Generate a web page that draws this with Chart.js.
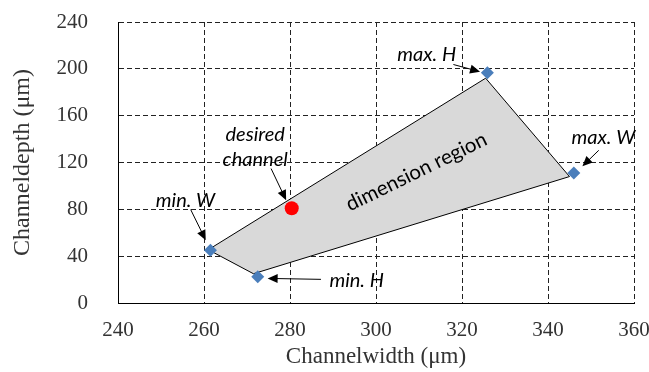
<!DOCTYPE html>
<html>
<head>
<meta charset="utf-8">
<script src="https://cdn.jsdelivr.net/npm/chart.js@4.4.0/dist/chart.umd.min.js"></script>
<style>
html, body { margin: 0; padding: 0; background: #fff; }
canvas { display: block; }
</style>
</head>
<body>
<canvas id="c" width="649" height="372"></canvas>
<script>
// corner points of the dimension region (diamonds)
const cornerNames = ['min. W', 'min. H', 'max. W', 'max. H'];
const cornerWidth = [261.5, 272.5, 346, 325.9];
const cornerDepth = [45, 22.5, 111, 196.7];

// outline of the shaded region (closed back to the first point)
const regionWidth = [261, 271.5, 345, 325.5, 261];
const regionDepth = [45.5, 25, 108, 192, 45.5];

// desired channel
const desiredWidth = [280.4];
const desiredDepth = [80.9];

const xTicks = [240, 260, 280, 300, 320, 340, 360];
const yTicks = [0, 40, 80, 120, 160, 200, 240];

// callouts, in data units: text anchor, arrow tail, arrow head
const callouts = [
    { text: ['max. H'], at: [311.8, 211.8], from: [318, 203.7], to: [324.2, 197.5] },
    { text: ['max. W'], at: [352.9, 141.2], from: [351.8, 130.4], to: [348, 116.8] },
    { text: ['desired', 'channel'], at: [271.9, 132.8], from: [275.6, 114.8], to: [279.1, 87.8] },
    { text: ['min. W'], at: [255.7, 87.2], from: [256.9, 79.8], to: [260.4, 53.7] },
    { text: ['min. H'], at: [295.5, 19.6], from: [287.2, 20.2], to: [274.8, 21] }
];
const regionLabel = { text: 'dimension region', at: [309.4, 112], angle: -26 };

function toPoints(xs, ys) {
    return xs.map((v, i) => ({ x: v, y: ys[i] }));
}

function drawArrow(ctx, x1, y1, x2, y2) {
    const a = Math.atan2(y2 - y1, x2 - x1);
    const len = 10, half = 4.5;
    ctx.beginPath();
    ctx.moveTo(x1, y1);
    ctx.lineTo(x2 - len * 0.8 * Math.cos(a), y2 - len * 0.8 * Math.sin(a));
    ctx.stroke();
    ctx.beginPath();
    ctx.moveTo(x2, y2);
    ctx.lineTo(x2 - len * Math.cos(a) + half * Math.sin(a), y2 - len * Math.sin(a) - half * Math.cos(a));
    ctx.lineTo(x2 - len * Math.cos(a) - half * Math.sin(a), y2 - len * Math.sin(a) + half * Math.cos(a));
    ctx.closePath();
    ctx.fill();
}

// callout texts and arrows
const calloutPlugin = {
    id: 'callouts',
    afterDraw(chart) {
        const { ctx, scales: { x, y } } = chart;
        ctx.save();
        ctx.setLineDash([]);
        ctx.strokeStyle = '#000';
        ctx.fillStyle = '#000';
        ctx.lineWidth = 1;

        ctx.font = 'italic 20px Lato';
        ctx.textAlign = 'center';
        ctx.textBaseline = 'middle';
        callouts.forEach(c => {
            const px = x.getPixelForValue(c.at[0]);
            const py = y.getPixelForValue(c.at[1]);
            const lh = 25;
            c.text.forEach((t, i) => {
                ctx.fillText(t, px, py + (i - (c.text.length - 1) / 2) * lh);
            });
            drawArrow(ctx,
                x.getPixelForValue(c.from[0]), y.getPixelForValue(c.from[1]),
                x.getPixelForValue(c.to[0]), y.getPixelForValue(c.to[1]));
        });

        ctx.font = '20.5px Lato';
        ctx.translate(x.getPixelForValue(regionLabel.at[0]), y.getPixelForValue(regionLabel.at[1]));
        ctx.rotate(regionLabel.angle * Math.PI / 180);
        ctx.fillText(regionLabel.text, 0, 0);
        ctx.restore();
    }
};

const tickFont = { family: 'Liberation Serif', size: 21 };

new Chart(document.getElementById('c').getContext('2d'), {
    type: 'scatter',
    data: {
        datasets: [
            {
                label: 'corners',
                data: toPoints(cornerWidth, cornerDepth),
                pointStyle: 'rectRot',
                pointRadius: 6.5,
                backgroundColor: '#4a7ebb',
                borderColor: '#4a7ebb',
                borderWidth: 0,
                order: 1
            },
            {
                label: 'desired channel',
                data: toPoints(desiredWidth, desiredDepth),
                pointStyle: 'circle',
                pointRadius: 7,
                backgroundColor: '#ff0000',
                borderColor: '#ff0000',
                borderWidth: 0,
                order: 2
            },
            {
                label: 'dimension region',
                data: toPoints(regionWidth, regionDepth),
                showLine: true,
                fill: 'shape',
                backgroundColor: '#d9d9d9',
                borderColor: '#000',
                borderWidth: 1,
                pointRadius: 0,
                tension: 0,
                order: 3
            }
        ]
    },
    options: {
        responsive: false,
        animation: false,
        events: [],
        layout: { padding: { top: 22, right: 15, left: 0, bottom: 0 } },
        plugins: {
            legend: { display: false },
            tooltip: { enabled: false }
        },
        scales: {
            x: {
                type: 'linear',
                min: 240,
                max: 360,
                afterBuildTicks: s => { s.ticks = xTicks.map(v => ({ value: v })); },
                afterFit: s => { s.height = 69; s.paddingLeft = 0; s.paddingRight = 0; },
                grid: { color: '#222', lineWidth: 1, drawTicks: false },
                border: { display: true, color: '#000', dash: [5, 3] },
                ticks: { font: tickFont, color: '#333', padding: 15, autoSkip: false, maxRotation: 0 },
                title: {
                    display: true, text: 'Channelwidth (μm)', color: '#333',
                    font: { family: 'Liberation Serif', size: 23 },
                    padding: { top: 0, bottom: 1 }
                }
            },
            y: {
                type: 'linear',
                min: 0,
                max: 240,
                afterBuildTicks: s => { s.ticks = yTicks.map(v => ({ value: v })); },
                afterFit: s => { s.width = 118; s.paddingTop = 0; s.paddingBottom = 0; },
                grid: { color: '#222', lineWidth: 1, drawTicks: false },
                border: { display: true, color: '#000', dash: [5, 3] },
                ticks: { font: tickFont, color: '#333', padding: 30, autoSkip: false },
                title: {
                    display: true, text: 'Channeldepth (μm)', color: '#333',
                    font: { family: 'Liberation Serif', size: 24 },
                    padding: { top: 8, bottom: 0 }
                }
            }
        }
    },
    plugins: [calloutPlugin]
});
</script>
</body>
</html>
